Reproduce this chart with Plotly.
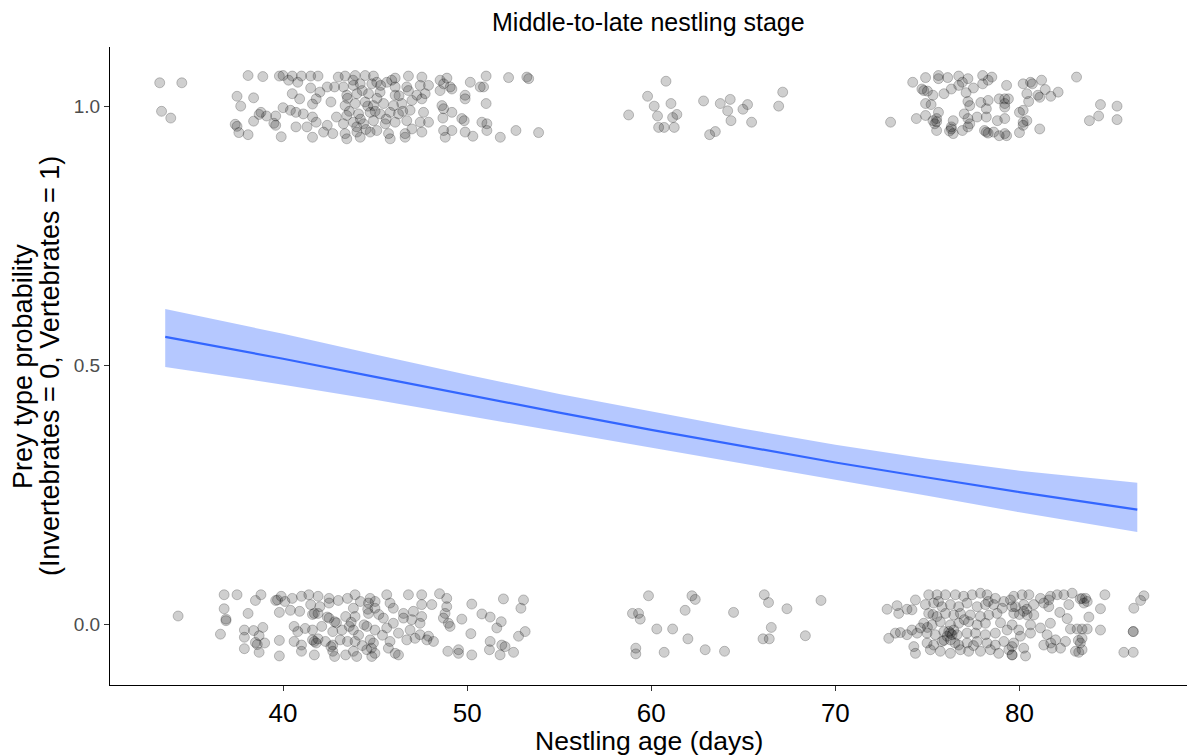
import plotly.graph_objects as go

# ---- fitted logistic curve with 95% confidence band ----
fit_age = [33.6, 40, 45, 50, 55, 60, 65, 70, 75, 80, 86.4]
fit_prob = [0.555, 0.513, 0.478, 0.443, 0.409, 0.376, 0.344, 0.313, 0.284, 0.256, 0.222]
fit_upper = [0.609, 0.561, 0.521, 0.482, 0.445, 0.411, 0.378, 0.347, 0.320, 0.297, 0.274]
fit_lower = [0.497, 0.463, 0.434, 0.404, 0.373, 0.342, 0.311, 0.280, 0.249, 0.217, 0.179]

# ---- jittered observations: vertebrate prey (y near 1) ----
vert_age = [
    33.3, 34.5, 33.4, 33.9, 38.1, 38.9, 39.8, 40.0, 40.5, 41.0, 41.5, 41.9,
    37.5, 38.4, 37.7, 38.7, 38.8, 38.4, 39.1, 39.6, 37.4, 37.5, 37.6, 38.1,
    39.6, 39.5, 39.9, 40.0, 40.3, 40.8, 40.5, 40.9, 41.5, 42.0, 41.8, 41.6,
    40.4, 40.7, 41.1, 41.6, 41.8, 41.3, 40.7, 41.6, 42.2, 42.4, 42.7, 42.9,
    42.6, 42.4, 42.8, 43.0,
    43.37, 43.92, 44.46, 44.91, 46.09, 46.81, 47.54, 48.53, 48.9,
    43.28, 43.82, 44.19, 44.82, 45.09, 45.64, 46.09, 46.72, 47.45, 47.9, 48.72, 49.08,
    43.46, 44.01, 44.64, 45.27, 46.09, 46.81, 47.27, 47.72, 48.53, 49.17,
    43.37, 43.92, 44.46, 44.91, 45.46, 46.0, 46.45, 47.0, 47.54,
    43.46, 44.1, 44.73, 45.27, 45.82, 46.27, 46.9, 47.63,
    43.28, 43.82, 44.37, 44.91, 45.55, 46.09, 46.72, 47.45, 47.9,
    43.37, 44.01, 44.73, 45.09, 45.73, 46.63, 47.0, 47.54,
    43.46, 44.19, 45.82, 46.63,
    50.17, 50.71, 50.89, 51.03, 52.25, 53.24, 53.34, 49.89, 49.89, 51.03,
    48.63, 48.72, 49.17, 48.68, 49.71, 49.84, 50.8, 51.07, 48.72, 49.17,
    48.81, 49.89, 50.31, 51.07, 51.8, 52.65, 53.88,
    44.3, 44.6, 43.6, 45.0, 45.3, 44.0, 45.6, 46.3, 43.8, 45.9, 44.5, 43.5,
    46.5, 45.1, 44.2,
    58.77, 60.8, 59.8, 60.16, 61.07, 60.34, 61.16, 61.39, 60.4, 60.7, 61.25,
    62.84, 63.75, 64.29, 64.15, 64.33, 64.98, 65.23, 65.45, 63.17, 63.48,
    67.14, 66.92,
    73.0, 74.2, 74.9, 75.6, 75.6, 76.1, 76.7, 77.2, 78.0, 78.5, 74.7, 75.0,
    75.3, 75.9, 76.3, 76.7, 76.9, 77.1, 77.5, 78.0, 78.3, 74.9, 75.2, 75.6,
    77.2, 77.3, 77.9, 78.3, 74.4, 74.9, 75.3, 75.5, 75.4, 76.4, 76.3, 76.3,
    76.4, 76.9, 77.0, 77.2, 77.3, 77.2, 77.7, 78.2, 78.2, 75.5, 78.1, 78.2,
    78.6, 78.9, 78.9, 78.8, 75.5, 76.2, 78.3, 74.8,
    79.3, 80.2, 80.6, 80.7, 81.2, 80.4, 81.0, 81.1, 81.4, 81.7, 82.1, 80.5,
    79.2, 79.4, 79.2, 79.2, 80.0, 80.2, 79.2, 80.2, 80.4, 80.2, 81.1, 80.0,
    79.2, 79.3, 83.1, 84.4, 85.3, 84.3, 83.8, 85.3,
]
vert_y = [
    1.045, 1.045, 0.990, 0.977, 1.059, 1.057, 1.058, 1.059, 1.058, 1.058, 1.058, 1.058,
    1.019, 1.016, 1.000, 0.984, 0.988, 0.971, 0.981, 0.981, 0.965, 0.961, 0.949, 0.945,
    0.963, 0.967, 0.941, 0.997, 1.050, 1.046, 1.024, 1.014, 1.035, 1.027, 1.014, 1.004,
    0.992, 0.988, 0.985, 0.979, 0.969, 0.960, 0.960, 0.940, 0.950, 0.963, 0.947, 0.979,
    1.008, 1.037, 1.037, 1.056,
    1.058, 1.059, 1.059, 1.058, 1.054, 1.058, 1.056, 1.050, 1.054,
    1.037, 1.040, 1.043, 1.043, 1.046, 1.046, 1.037, 1.037, 1.040, 1.040, 1.043, 1.037,
    1.021, 1.024, 1.024, 1.027, 1.021, 1.030, 1.021, 1.024, 1.030, 1.033,
    1.001, 1.005, 1.008, 1.001, 1.005, 1.001, 1.005, 1.011, 1.014,
    0.982, 0.985, 0.988, 0.985, 0.988, 0.985, 0.992, 0.988,
    0.966, 0.969, 0.966, 0.972, 0.966, 0.969, 0.972, 0.969, 0.969,
    0.947, 0.950, 0.950, 0.953, 0.947, 0.947, 0.956, 0.950,
    0.937, 0.940, 0.937, 0.940,
    1.046, 1.037, 1.037, 1.058, 1.055, 1.056, 1.053, 1.021, 1.014, 1.005,
    1.001, 0.995, 0.988, 0.977, 0.976, 0.972, 0.969, 0.966, 0.953, 0.953,
    0.940, 0.950, 0.942, 0.953, 0.940, 0.953, 0.949,
    1.030, 1.000, 0.990, 0.990, 1.040, 0.960, 0.975, 1.020, 1.050, 1.050, 0.955, 1.015,
    0.990, 1.015, 0.975,
    0.983, 1.048, 1.019, 1.000, 1.005, 0.981, 0.978, 0.984, 0.959, 0.959, 0.959,
    1.010, 1.005, 1.013, 0.991, 0.972, 0.994, 1.003, 0.969, 0.945, 0.951,
    1.027, 1.000,
    0.969, 1.046, 1.055, 1.059, 1.053, 1.055, 1.058, 1.053, 1.059, 1.056, 1.033, 1.029,
    1.021, 1.024, 1.033, 1.040, 1.046, 1.026, 1.035, 1.043, 1.050, 1.005, 1.003, 0.988,
    1.009, 1.001, 1.007, 1.011, 0.976, 0.982, 0.972, 0.976, 0.966, 0.972, 0.960, 0.956,
    0.947, 0.953, 0.985, 0.976, 0.966, 0.960, 0.979, 0.979, 0.995, 0.953, 0.953, 0.950,
    0.950, 0.943, 1.014, 0.972, 0.970, 0.952, 0.948, 1.030,
    1.040, 1.043, 1.046, 1.043, 1.050, 1.024, 1.021, 1.017, 1.032, 1.019, 1.027, 1.009,
    1.014, 1.014, 1.005, 0.998, 0.988, 0.992, 0.976, 0.969, 0.972, 0.963, 0.956, 0.949,
    0.947, 0.943, 1.056, 1.003, 1.000, 0.981, 0.972, 0.974,
]

# ---- jittered observations: invertebrate prey (y near 0) ----
invert_age = [
    34.3, 36.8, 37.5, 38.5, 38.8, 36.8, 36.9, 36.9, 38.1, 36.6, 37.9, 37.9,
    38.4, 38.9, 38.7, 38.5, 39.0, 38.6, 37.9, 38.7, 39.8, 39.8, 39.6, 39.9,
    40.1, 39.8, 40.4, 40.5, 41.0, 41.4, 41.9, 42.5, 43.0, 43.5, 40.9, 41.5,
    42.0, 42.5, 41.7, 41.9, 42.5, 42.8, 43.4, 40.6, 40.8, 41.2, 41.6, 42.1,
    42.7, 43.2, 43.6, 40.6, 41.0, 41.6, 41.8, 42.3, 42.7, 43.1, 43.5, 41.0,
    41.7, 42.7, 42.8, 43.4, 41.6, 42.4, 42.9, 41.7, 41.9, 39.7, 42.6,
    43.91, 44.73, 45.63, 46.81, 47.53, 48.5, 48.89,
    43.82, 44.64, 44.99, 45.81, 45.99, 46.54, 47.08, 47.53, 48.08, 48.89, 48.8,
    43.91, 44.64, 45.45, 45.99, 46.54, 46.99, 47.53, 47.44, 48.71, 48.98, 49.07,
    43.82, 44.55, 44.99, 45.63, 46.27, 46.9, 47.44, 47.9, 48.17,
    43.91, 44.73, 44.91, 45.81, 46.72, 47.17, 47.81,
    43.82, 44.55, 44.99, 45.72, 46.09, 46.27, 44.0, 44.82,
    50.25, 50.8, 51.25, 51.97, 53.06, 52.92, 49.71, 51.85, 51.61, 50.2, 53.15,
    52.79, 51.25, 51.21, 51.88, 52.06, 52.52, 51.79, 48.95, 49.53, 49.53, 50.25,
    44.2, 44.4, 44.1, 45.2, 44.8, 43.7, 45.4, 44.6, 44.3, 45.0,
    59.85, 62.21, 62.39, 58.98, 59.31, 59.4, 61.84, 64.47, 60.3, 61.16, 61.99,
    59.16, 59.16, 60.7, 62.93, 63.98, 66.14, 66.37, 67.37, 69.22, 66.52, 66.07,
    66.41, 68.37,
    72.81, 73.35, 73.44, 73.89, 74.16, 74.35, 72.9, 73.26, 73.53, 73.89, 74.16,
    74.44, 74.62, 74.26, 74.35,
    75.07, 75.52, 75.98, 76.52, 76.97, 77.43, 77.88, 78.24, 78.69, 79.15, 79.51,
    74.89, 75.34, 75.79, 76.25, 76.7, 77.15, 77.7, 78.15, 78.6, 79.06, 79.6,
    75.07, 75.52, 75.98, 76.43, 76.79, 77.33, 77.88, 78.33, 78.78,
    74.8, 75.25, 75.7, 76.25, 76.7, 77.24, 77.7, 78.15, 78.97,
    74.98, 75.43, 75.89, 76.25, 76.61, 77.15, 77.61, 78.15, 78.69, 79.33,
    74.98, 75.34, 75.79, 76.25, 76.7, 77.15, 77.7, 78.24, 78.69, 79.15, 79.69,
    75.16, 75.7, 76.25, 76.79, 77.24, 77.88, 78.42, 78.87, 79.42, 79.6,
    76.16, 76.34, 76.07, 76.43, 75.9, 76.5, 75.6, 77.0, 75.3, 77.5, 78.3, 75.0,
    79.69, 80.14, 80.51, 81.14, 81.68, 82.05, 82.41, 82.86, 83.4, 83.59, 83.68, 84.64,
    79.78, 80.23, 80.78, 81.32, 81.59,
    79.69, 80.23, 80.42, 80.78, 81.59, 82.68, 82.19, 82.59, 83.5, 84.4,
    79.6, 79.96, 80.6, 80.05, 80.6, 81.14, 81.68, 81.5, 81.96, 82.5, 82.77, 83.13,
    83.4, 83.68, 83.77, 84.4, 83.4, 83.31,
    79.6, 80.23, 81.32, 81.77, 82.23, 83.04, 83.4, 83.22, 80.33, 79.6,
    85.67, 86.18, 86.21, 86.58, 86.76, 86.18, 86.18,
    80.0, 80.4, 83.3, 83.2, 81.7,
]
invert_y = [
    0.017, 0.058, 0.058, 0.047, 0.058, 0.031, 0.011, 0.008, 0.022, -0.018, -0.010, -0.024,
    -0.011, -0.005, -0.021, -0.034, -0.035, -0.038, -0.046, -0.053, -0.030, -0.060, 0.047, 0.055,
    0.045, 0.024, 0.028, 0.051, 0.055, 0.058, 0.055, 0.051, 0.047, 0.051, 0.026, 0.039,
    0.035, 0.042, 0.022, 0.022, 0.013, 0.006, 0.016, -0.003, -0.013, -0.007, -0.010, -0.003,
    -0.013, -0.010, -0.003, -0.032, -0.039, -0.029, -0.035, -0.032, -0.039, -0.029, -0.032, -0.051,
    -0.058, -0.051, -0.061, -0.058, 0.020, 0.015, 0.004, -0.032, -0.027, 0.048, -0.042,
    0.058, 0.051, 0.058, 0.058, 0.058, 0.060, 0.051,
    0.032, 0.042, 0.032, 0.042, 0.032, 0.022, 0.026, 0.039, 0.039, 0.035, 0.022,
    0.016, 0.022, 0.013, 0.003, 0.013, 0.010, 0.016, 0.003, 0.013, 0.003, -0.003,
    -0.010, -0.003, -0.010, -0.006, -0.016, -0.010, -0.019, -0.022, -0.032,
    -0.032, -0.029, -0.035, -0.032, -0.029, -0.026, -0.029,
    -0.051, -0.048, -0.055, -0.045, -0.055, -0.058, -0.061, -0.061,
    0.040, 0.021, 0.015, 0.050, 0.048, 0.032, 0.011, 0.006, -0.006, -0.017, -0.013,
    -0.022, -0.032, -0.048, -0.039, -0.042, -0.053, -0.058, -0.051, -0.048, -0.055, -0.058,
    0.045, 0.000, -0.020, 0.020, -0.045, 0.005, -0.020, 0.030, -0.040, 0.045,
    0.056, 0.056, 0.049, 0.022, 0.022, 0.011, 0.028, 0.024, -0.008, -0.008, -0.027,
    -0.045, -0.056, -0.053, -0.048, -0.051, 0.058, 0.043, 0.031, 0.047, -0.005, -0.027,
    -0.027, -0.021,
    0.030, 0.037, 0.022, 0.030, 0.029, 0.048, -0.026, -0.016, -0.015, -0.019, -0.010,
    -0.016, -0.006, -0.042, -0.055,
    0.058, 0.058, 0.058, 0.058, 0.055, 0.058, 0.061, 0.058, 0.051, 0.045, 0.048,
    0.039, 0.042, 0.035, 0.039, 0.035, 0.042, 0.035, 0.039, 0.039, 0.032, 0.035,
    0.022, 0.016, 0.022, 0.019, 0.022, 0.019, 0.016, 0.019, 0.022,
    0.003, 0.000, 0.006, 0.000, 0.003, 0.006, 0.000, 0.003, 0.004,
    -0.016, -0.019, -0.013, -0.016, -0.019, -0.016, -0.016, -0.019, -0.016, -0.010,
    -0.035, -0.039, -0.032, -0.029, -0.039, -0.035, -0.032, -0.035, -0.039, -0.032, -0.035,
    -0.048, -0.051, -0.055, -0.048, -0.051, -0.051, -0.048, -0.055, -0.048, -0.058,
    -0.013, -0.019, -0.022, -0.010, -0.030, -0.035, 0.045, 0.010, 0.020, -0.040, 0.045, -0.005,
    0.055, 0.058, 0.058, 0.051, 0.055, 0.058, 0.058, 0.061, 0.051, 0.051, 0.045, 0.058,
    0.035, 0.039, 0.039, 0.042, 0.048,
    0.022, 0.026, 0.019, 0.019, 0.035, 0.039, 0.024, 0.012, 0.042, 0.031,
    0.000, -0.010, 0.000, -0.022, -0.016, -0.006, 0.003, -0.019, -0.029, -0.032, -0.008, -0.008,
    -0.008, -0.008, 0.015, -0.010, -0.026, -0.035,
    -0.042, -0.045, -0.039, -0.045, -0.045, -0.051, -0.048, -0.053, -0.060, -0.058,
    -0.053, -0.053, 0.032, 0.047, 0.056, -0.013, -0.013,
    0.020, 0.030, 0.050, -0.030, -0.035,
]

x_ticks = [40, 50, 60, 70, 80]
y_ticks = [0.0, 0.5, 1.0]
y_tick_text = ["0.0", "0.5", "1.0"]

FONT = "Liberation Sans, Arial, sans-serif"
LINE_BLUE = "#3366FF"

fig = go.Figure()

# confidence band
fig.add_trace(go.Scatter(
    x=fit_age + fit_age[::-1],
    y=fit_upper + fit_lower[::-1],
    fill="toself", fillcolor="rgba(51,102,255,0.36)",
    line=dict(width=0), mode="lines", hoverinfo="skip", showlegend=False,
))

# observations
point_style = dict(size=10, color="rgba(0,0,0,0.19)",
                   line=dict(color="rgba(0,0,0,0.22)", width=1))
fig.add_trace(go.Scatter(x=vert_age, y=vert_y, mode="markers",
                         marker=point_style, showlegend=False))
fig.add_trace(go.Scatter(x=invert_age, y=invert_y, mode="markers",
                         marker=point_style, showlegend=False))

# fitted curve
fig.add_trace(go.Scatter(x=fit_age, y=fit_prob, mode="lines",
                         line=dict(color=LINE_BLUE, width=2.2), showlegend=False))

fig.update_layout(
    width=1187, height=756,
    margin=dict(l=110, r=0, t=47, b=71),
    paper_bgcolor="white", plot_bgcolor="white",
    font=dict(family=FONT, color="black"),
    xaxis=dict(range=[30.6, 89.1], tickvals=x_ticks, showgrid=False, zeroline=False,
               showline=True, linecolor="black", linewidth=1,
               ticks="outside", ticklen=5, tickcolor="#333333",
               tickfont=dict(size=26, color="black")),
    yaxis=dict(range=[-0.116, 1.114], tickvals=y_ticks, ticktext=y_tick_text,
               showgrid=False, zeroline=False,
               showline=True, linecolor="black", linewidth=1,
               ticks="outside", ticklen=5, tickcolor="#333333",
               tickfont=dict(size=19, color="#4d4d4d")),
    annotations=[
        dict(text="Middle-to-late nestling stage", xref="paper", yref="paper",
             x=0.5, y=1.039, xanchor="center", yanchor="middle", showarrow=False,
             font=dict(size=25, color="black")),
        dict(text="Nestling age (days)", xref="paper", yref="paper",
             x=0.5, y=-0.087, xanchor="center", yanchor="middle", showarrow=False,
             font=dict(size=26.5, color="black")),
        dict(text="Prey type probability",
             xref="paper", yref="paper", x=-0.0808, y=0.5, textangle=-90,
             xanchor="center", yanchor="middle", showarrow=False,
             font=dict(size=27, color="black")),
        dict(text="(Invertebrates = 0, Vertebrates = 1)",
             xref="paper", yref="paper", x=-0.0557, y=0.5, textangle=-90,
             xanchor="center", yanchor="middle", showarrow=False,
             font=dict(size=27, color="black")),
    ],
)

fig.write_html("out.html")
